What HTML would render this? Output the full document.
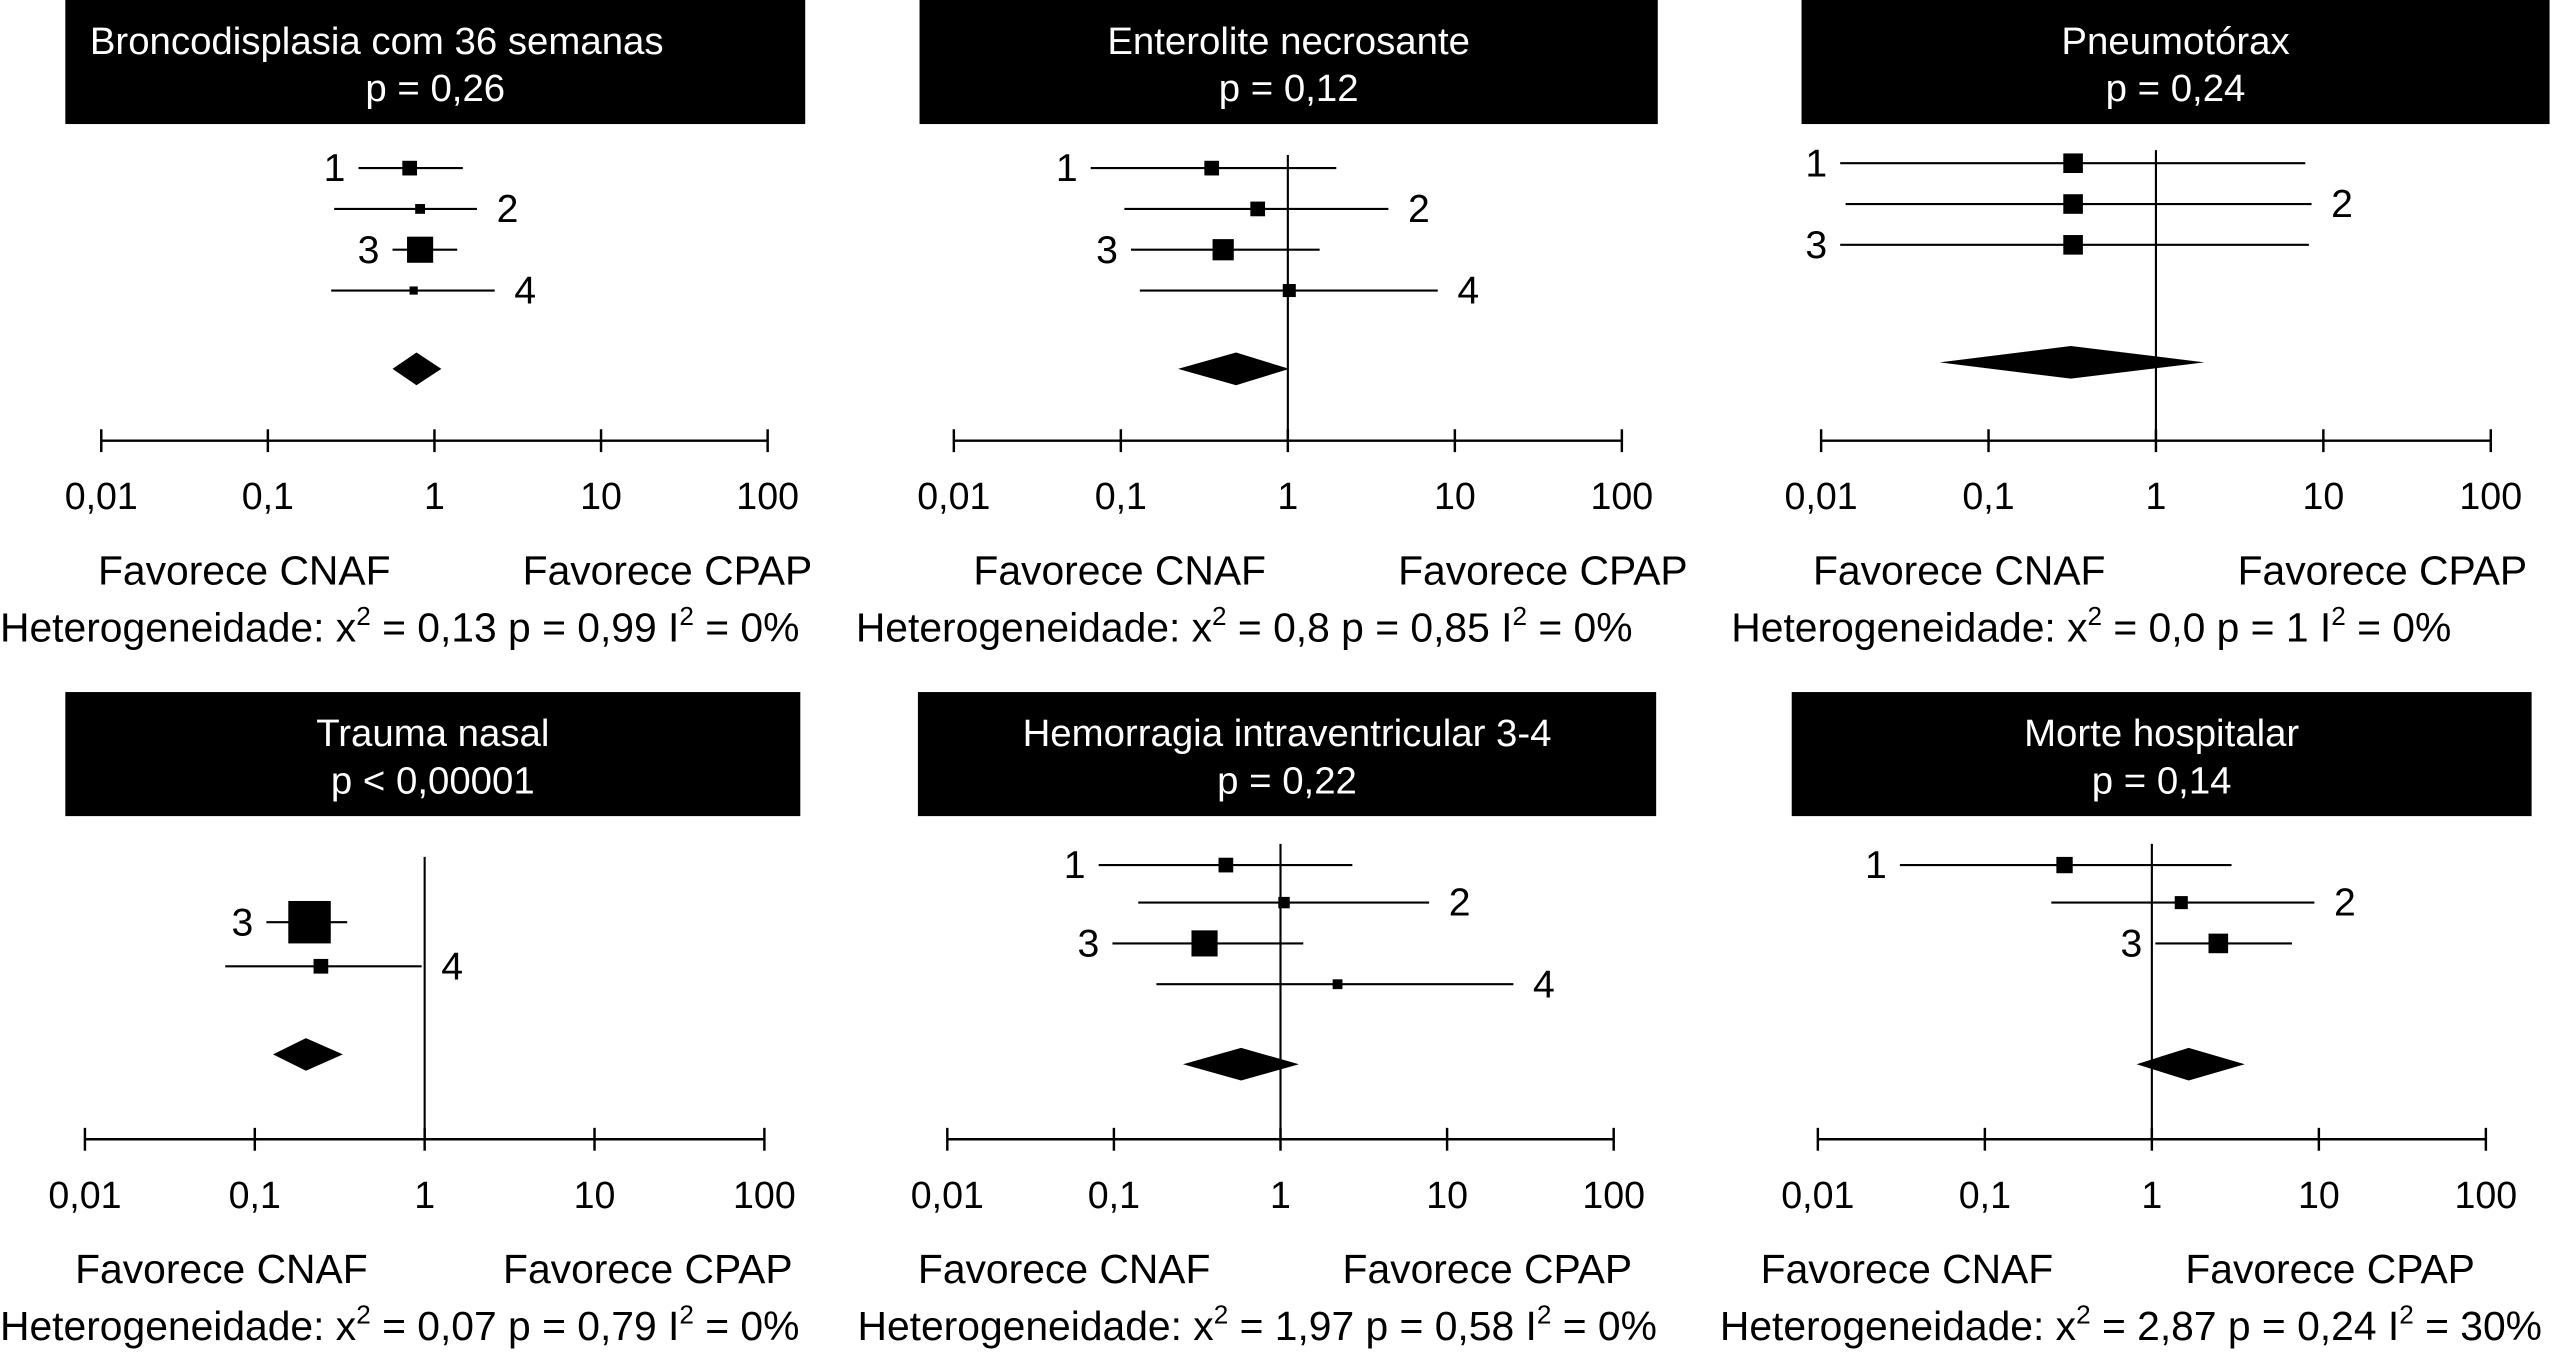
<!DOCTYPE html>
<html><head><meta charset="utf-8"><style>
html,body{margin:0;padding:0;background:#fff;width:2561px;height:1358px;overflow:hidden}
svg{display:block;font-family:"Liberation Sans",Arial,sans-serif}
</style></head><body>
<svg id="fig" width="2561" height="1358" viewBox="0 0 1568 832" preserveAspectRatio="none" xmlns="http://www.w3.org/2000/svg"></svg>
<script>
const tickLabels = ["0,01","0,1","1","10","100"];
const tickValues = [0.01,0.1,1,10,100];
const titles1 = ["Broncodisplasia com 36 semanas","Enterolite necrosante","Pneumotórax","Trauma nasal","Hemorragia intraventricular 3-4","Morte hospitalar"];
const titles2 = ["p = 0,26","p = 0,12","p = 0,24","p < 0,00001","p = 0,22","p = 0,14"];
const hetChi = ["0,13","0,8","0,0","0,07","1,97","2,87"];
const hetP = ["0,99","0,85","1","0,79","0,58","0,24"];
const hetI = ["0%","0%","0%","0%","0%","30%"];
// studies: [label, point, lo, hi, weight-size]
const p1Studies = [["1",0.71,0.35,1.48,9],["2",0.82,0.25,1.8,6],["3",0.82,0.56,1.37,16],["4",0.75,0.24,2.3,5]];
const p2Studies = [["1",0.35,0.066,1.95,9],["2",0.66,0.105,4.0,9],["3",0.41,0.115,1.55,13],["4",1.02,0.13,7.9,8]];
const p3Studies = [["1",0.32,0.013,7.8,12],["2",0.32,0.014,8.5,12],["3",0.32,0.013,8.2,12]];
const p4Studies = [["3",0.21,0.117,0.35,26],["4",0.245,0.067,0.96,9]];
const p5Studies = [["1",0.47,0.081,2.7,9],["2",1.05,0.14,7.8,7],["3",0.35,0.098,1.37,16],["4",2.2,0.18,25,6]];
const p6Studies = [["1",0.30,0.031,3.0,10],["2",1.5,0.25,9.4,8],["3",2.5,1.05,6.9,12]];
// pooled: [point, lo, hi]
const pooled = [[0.78,0.56,1.1],[0.49,0.22,1.02],[0.31,0.051,1.95],[0.2,0.128,0.33],[0.58,0.26,1.29],[1.66,0.81,3.6]];

const studies=[p1Studies,p2Studies,p3Studies,p4Studies,p5Studies,p6Studies];
const L=[
 {bx:40,bw:453,by:0,x0:62,d:102,ax:270,rows:[103,128,153,178],dy:226,vl:null,side:["L","R","L","R"],fav:[60,320],het:0,tl:55},
 {bx:563,bw:452,by:0,x0:584,d:102.25,ax:270,rows:[103,128,153,178],dy:226,vl:95,side:["L","R","L","R"],fav:[596,856],het:524},
 {bx:1103,bw:458,by:0,x0:1115,d:102.5,ax:270,rows:[100,125,150],dy:222,vl:92,side:["L","R","L"],fav:[1110,1370],het:1060},
 {bx:40,bw:450,by:424,x0:52,d:104,ax:698,rows:[565,592],dy:646,vl:525,side:["L","R"],fav:[46,308],het:0},
 {bx:562,bw:452,by:424,x0:580,d:102,ax:698,rows:[530,553,578,603],dy:652,vl:517,side:["L","R","L","R"],fav:[562,822],het:525},
 {bx:1097,bw:453,by:424,x0:1113,d:102.25,ax:698,rows:[530,553,578],dy:652,vl:517,side:["L","R","L"],fav:[1078,1338],het:1053}
];
const NS="http://www.w3.org/2000/svg", svg=document.getElementById('fig');
function mk(tag,attrs,parent,text){const e=document.createElementNS(NS,tag);for(const k in attrs)e.setAttribute(k,attrs[k]);if(text!==undefined)e.textContent=text;(parent||svg).appendChild(e);return e;}
L.forEach((c,i)=>{
 const g=mk('g',{});
 
 
 const X=v=>c.x0+(Math.log10(v)+2)*c.d;
 const box=mk('rect',{x:c.bx,y:c.by,width:c.bw,height:76,fill:'#000'},g);
 
 
 const t1=mk('text',{x:i==0?c.tl:c.bx+c.bw/2,y:c.by+33,'text-anchor':i==0?'start':'middle',fill:'#fff','font-size':23.5},g,titles1[i]);
 
 
 const t2=mk('text',{x:c.bx+c.bw/2,y:c.by+62,'text-anchor':'middle',fill:'#fff','font-size':23.5},g,titles2[i]);
 
 
 const ax=mk('line',{x1:X(0.01),x2:X(100),y1:c.ax,y2:c.ax,stroke:'#000','stroke-width':1.5},g);
 
 
 tickValues.forEach((v,k)=>{
  const tk=mk('line',{x1:X(v),x2:X(v),y1:c.ax-7,y2:c.ax+7,stroke:'#000','stroke-width':1.5},g);
  
  
  const tl=mk('text',{x:X(v),y:c.ax+42,'text-anchor':'middle','font-size':23},g,tickLabels[k]);
  
  
 });
 if(c.vl!==null){
  const vl=mk('line',{x1:X(1),x2:X(1),y1:c.vl,y2:c.ax,stroke:'#000','stroke-width':1.3},g);
  
  
 }
 studies[i].forEach((s,k)=>{
  const y=c.rows[k];
  const ci=mk('line',{x1:X(s[2]),x2:X(s[3]),y1:y,y2:y,stroke:'#000','stroke-width':1.3},g);
  
  
  const sz=s[4];
  const sq=mk('rect',{x:X(s[1])-sz/2,y:y-sz/2,width:sz,height:sz,fill:'#000'},g);
  
  
  const left=c.side[k]=='L';
  const lb=mk('text',{x:left?X(s[2])-8:X(s[3])+12,y:y+8,'text-anchor':left?'end':'start','font-size':24},g,s[0]);
  
  
 });
 const p=pooled[i],h=10;
 const dm=mk('polygon',{points:`${X(p[1])},${c.dy} ${X(p[0])},${c.dy-h} ${X(p[2])},${c.dy} ${X(p[0])},${c.dy+h}`,fill:'#000'},g);
 
 
 const f1=mk('text',{x:c.fav[0],y:c.ax+88,'font-size':25},g,'Favorece CNAF');
 
 
 const f2=mk('text',{x:c.fav[1],y:c.ax+88,'font-size':25},g,'Favorece CPAP');
 
 
 const ht=mk('text',{x:c.het,y:c.ax+123,'font-size':25},g);
 
 
 mk('tspan',{},ht,'Heterogeneidade: x');
 mk('tspan',{dy:-10,'font-size':16},ht,'2');
 mk('tspan',{dy:10},ht,' = '+hetChi[i]+' p = '+hetP[i]+' I');
 mk('tspan',{dy:-10,'font-size':16},ht,'2');
 mk('tspan',{dy:10},ht,' = '+hetI[i]);
});
</script>
</body></html>
